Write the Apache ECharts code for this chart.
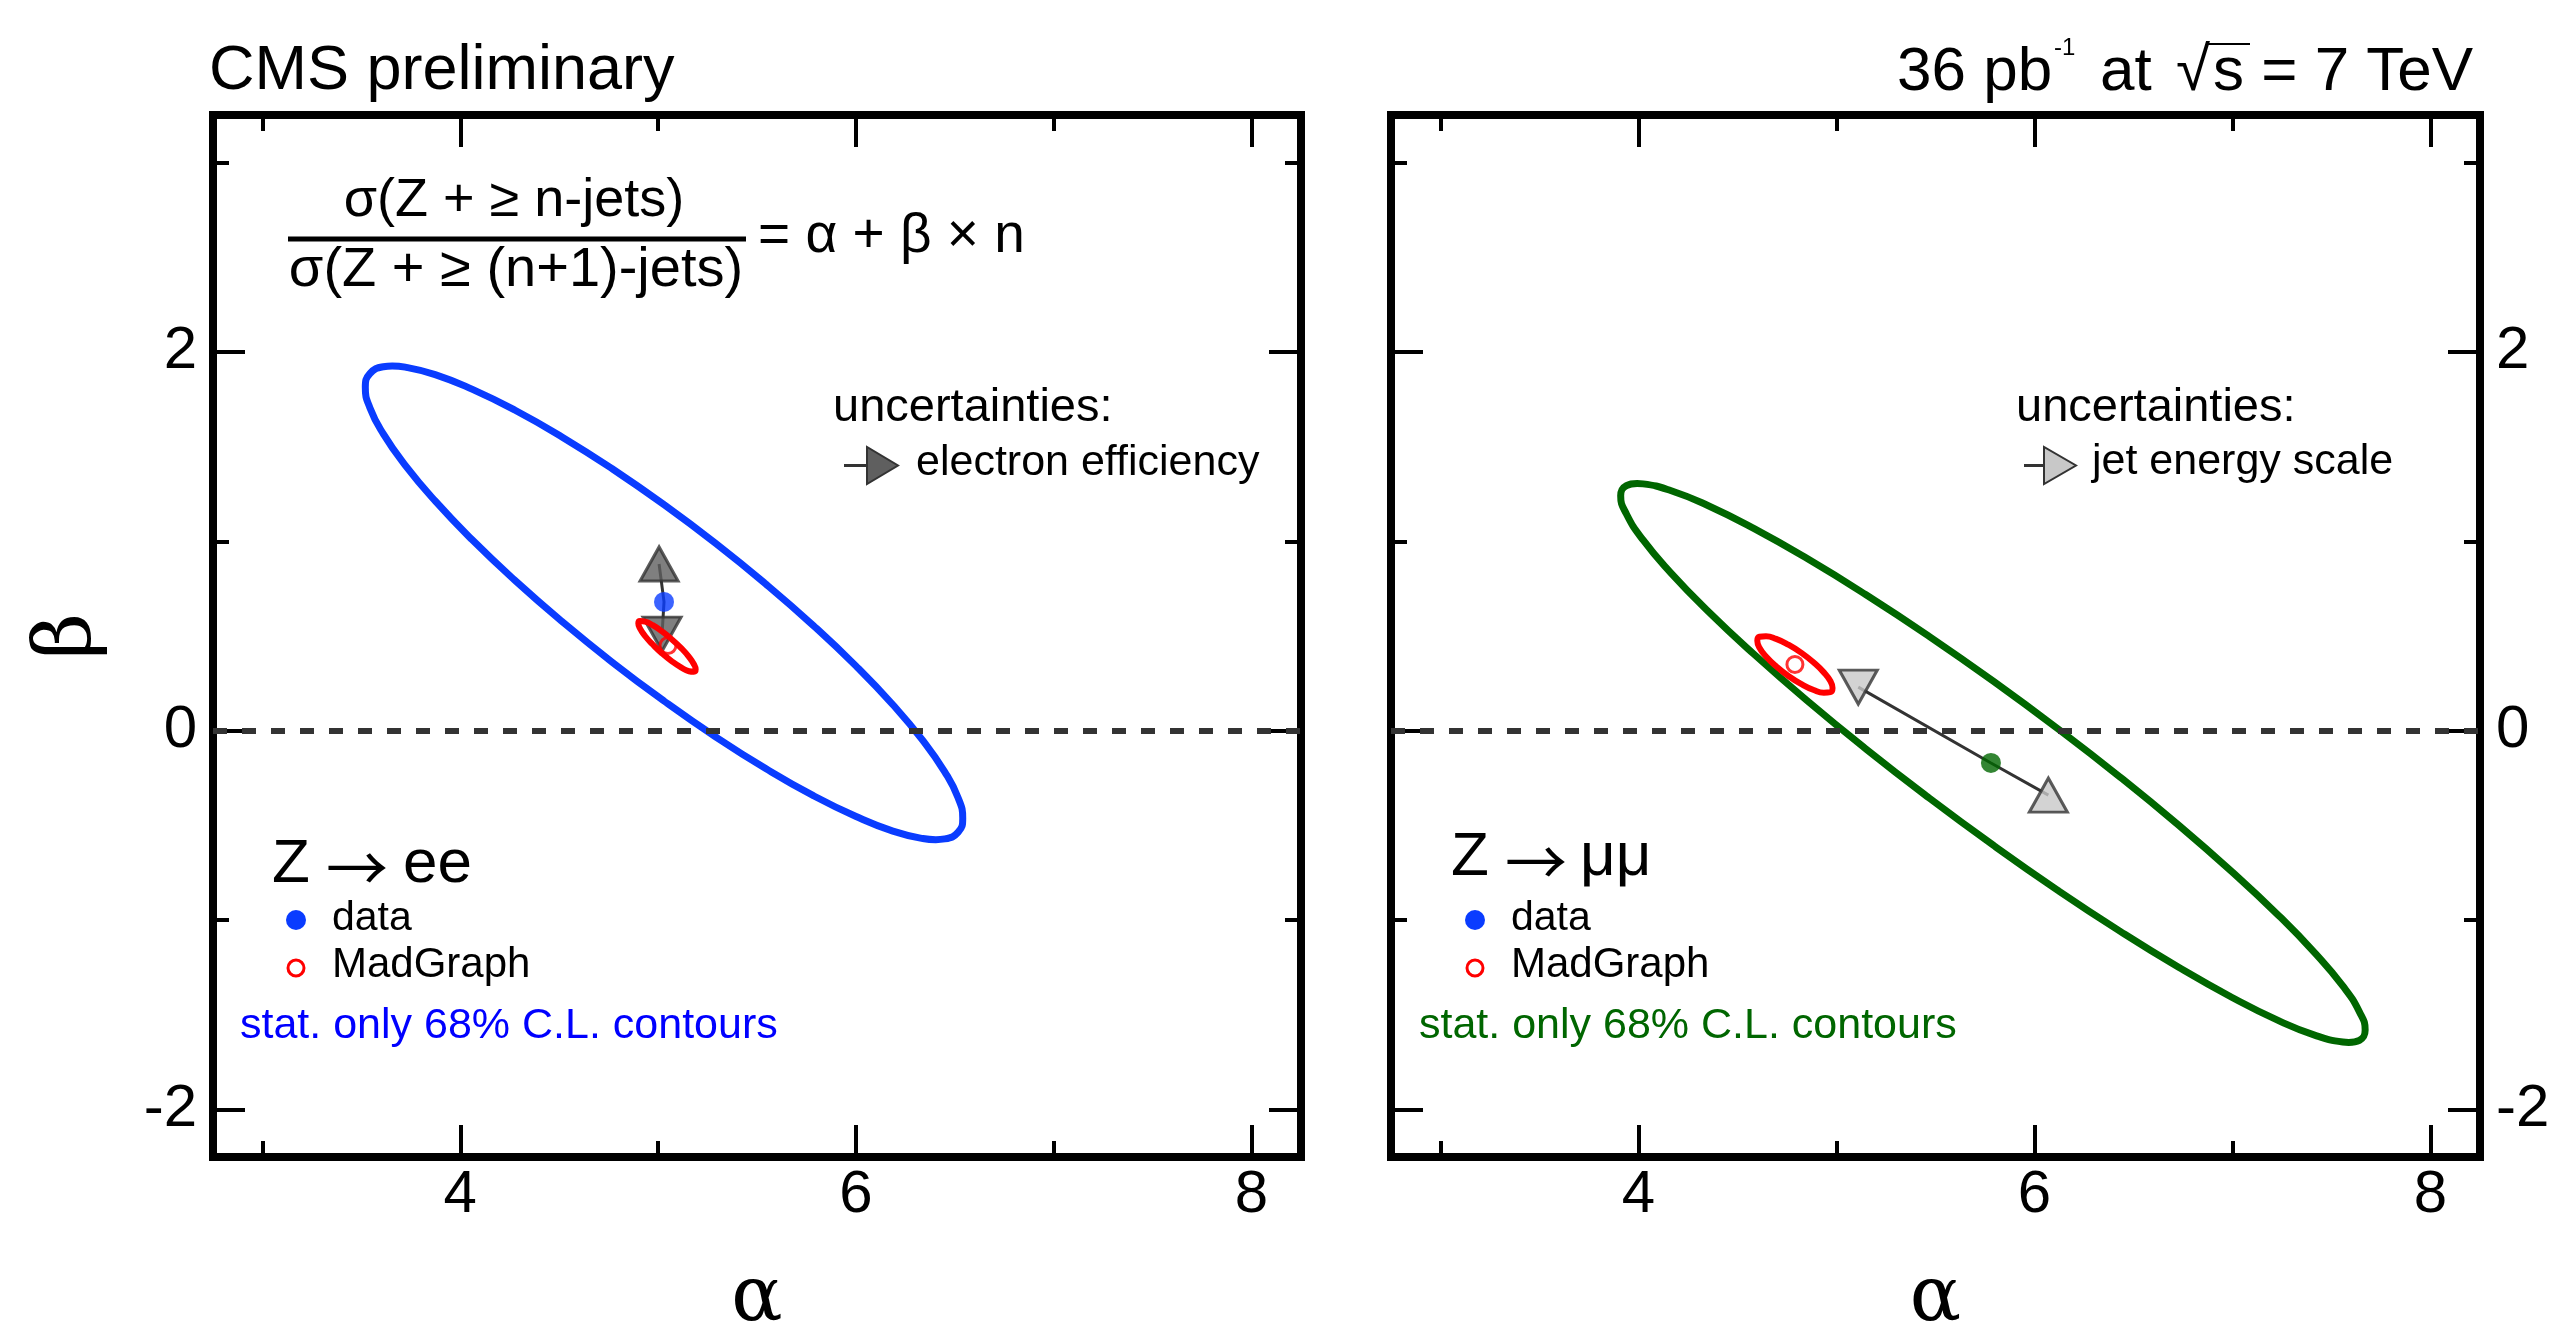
<!DOCTYPE html>
<html>
<head>
<meta charset="utf-8">
<script src="https://cdn.jsdelivr.net/npm/echarts@6/dist/echarts.min.js"></script>
<style>
html, body { margin: 0; padding: 0; background: #fff; }
#chart { width: 2561px; height: 1321px; }
</style>
</head>
<body>
<div id="chart"></div>
<script>
// axis ranges and ticks (same for both panels)
var xRange = [2.75, 8.25];
var yRange = [-2.25, 3.25];
var xMajorTicks = [4, 6, 8];
var xMinorTicks = [3, 5, 7];
var yMajorTicks = [-2, 0, 2];
var yMinorTicks = [-1, 1, 3];

// Z -> ee panel
var eeData = [[5.03, 0.68]];
var eeMadGraph = [[5.05, 0.45]];
var eeSystUp = [[5.005, 0.88]];
var eeSystDown = [[5.02, 0.51]];
var eeContour = [
    [5.030, 1.193], [4.768, 1.383], [4.514, 1.551], [4.275, 1.693], [4.059, 1.803], [3.873, 1.880],
    [3.722, 1.919], [3.656, 1.925], [3.611, 1.921], [3.543, 1.885], [3.520, 1.813], [3.543, 1.705],
    [3.611, 1.567], [3.722, 1.401], [3.873, 1.213], [4.059, 1.009], [4.275, 0.795], [4.514, 0.577],
    [4.768, 0.362], [5.030, 0.157], [5.292, -0.033], [5.546, -0.201], [5.785, -0.343], [6.001, -0.453],
    [6.187, -0.530], [6.338, -0.569], [6.404, -0.575], [6.449, -0.571], [6.517, -0.535], [6.540, -0.463],
    [6.517, -0.355], [6.449, -0.217], [6.338, -0.051], [6.187, 0.137], [6.001, 0.341], [5.785, 0.555],
    [5.546, 0.773], [5.292, 0.988], [5.030, 1.193]
];
var eeMadGraphContour = [
    [5.070, 0.482], [5.020, 0.524], [4.973, 0.557], [4.934, 0.576], [4.909, 0.579], [4.900, 0.567],
    [4.909, 0.539], [4.934, 0.500], [4.973, 0.455], [5.020, 0.408], [5.070, 0.366], [5.118, 0.333],
    [5.156, 0.314], [5.181, 0.311], [5.190, 0.324], [5.181, 0.351], [5.156, 0.390], [5.118, 0.435],
    [5.070, 0.482]
];

// Z -> mumu panel
var mmData = [[5.78, -0.17]];
var mmMadGraph = [[4.79, 0.35]];
var mmSystUp = [[6.07, -0.34]];
var mmSystDown = [[5.11, 0.23]];
var mmContour = [
    [5.790, 0.263], [5.464, 0.501], [5.147, 0.719], [4.850, 0.910], [4.582, 1.068], [4.350, 1.189],
    [4.162, 1.268], [4.023, 1.303], [3.993, 1.305], [3.939, 1.294], [3.910, 1.240], [3.939, 1.144],
    [4.023, 1.007], [4.162, 0.835], [4.350, 0.632], [4.582, 0.405], [4.850, 0.160], [5.147, -0.095],
    [5.464, -0.352], [5.790, -0.603], [6.116, -0.841], [6.433, -1.059], [6.730, -1.250], [6.998, -1.408],
    [7.230, -1.529], [7.418, -1.608], [7.557, -1.643], [7.587, -1.645], [7.641, -1.634], [7.670, -1.580],
    [7.641, -1.484], [7.557, -1.347], [7.418, -1.175], [7.230, -0.972], [6.998, -0.745], [6.730, -0.500],
    [6.433, -0.245], [6.116, 0.012], [5.790, 0.263]
];
var mmMadGraphContour = [
    [4.823, 0.411], [4.757, 0.454], [4.695, 0.485], [4.644, 0.499], [4.611, 0.496], [4.600, 0.475],
    [4.611, 0.438], [4.644, 0.392], [4.695, 0.340], [4.757, 0.289], [4.823, 0.246], [4.885, 0.215],
    [4.936, 0.201], [4.969, 0.204], [4.980, 0.226], [4.969, 0.262], [4.936, 0.308], [4.885, 0.360],
    [4.823, 0.411]
];

var sans = 'Liberation Sans';
var greek = 'DejaVu Serif';

function xAx(grid, pos, ticks, len, labels, name) {
    return {
        type: 'value', gridIndex: grid, position: pos, min: xRange[0], max: xRange[1],
        axisLine: {show: false, onZero: false},
        splitLine: {show: false},
        axisTick: {show: true, inside: true, length: len, customValues: ticks, lineStyle: {color: '#000', width: 4}},
        axisLabel: {show: labels, customValues: ticks, margin: 8, fontSize: 60, fontFamily: sans, color: '#000'},
        name: name || '', nameLocation: 'middle', nameGap: 105,
        nameTextStyle: {fontSize: 76, fontFamily: greek, color: '#000'}
    };
}

function yAx(grid, pos, ticks, len, labels, name) {
    return {
        type: 'value', gridIndex: grid, position: pos, min: yRange[0], max: yRange[1],
        axisLine: {show: false, onZero: false},
        splitLine: {show: false},
        axisTick: {show: true, inside: true, length: len, customValues: ticks, lineStyle: {color: '#000', width: 4}},
        axisLabel: {show: labels, customValues: ticks, margin: 16, fontSize: 60, fontFamily: sans, color: '#000'},
        name: name || '', nameLocation: 'middle', nameGap: 104,
        nameTextStyle: {fontSize: 80, fontFamily: greek, color: '#000'}
    };
}

function panelSeries(ax, contour, color, mgContour, mgPoint, dataPoint, up, down, triFill) {
    return [
        {
            type: 'line', xAxisIndex: ax, yAxisIndex: ax, data: contour, smooth: true,
            symbol: 'none', lineStyle: {color: color, width: 7}, z: 2,
            markLine: {
                silent: true, symbol: ['none', 'none'], label: {show: false},
                lineStyle: {color: '#333', width: 6, type: [14, 15]},
                data: [{yAxis: 0}]
            }
        },
        {
            type: 'line', xAxisIndex: ax, yAxisIndex: ax, data: [up[0], dataPoint[0], down[0]],
            symbol: 'none', lineStyle: {color: '#333', width: 3}, z: 3
        },
        {
            type: 'scatter', xAxisIndex: ax, yAxisIndex: ax, data: up, symbol: 'triangle',
            symbolSize: [38, 34], itemStyle: {color: triFill, borderColor: '#333', borderWidth: 3}, z: 4
        },
        {
            type: 'scatter', xAxisIndex: ax, yAxisIndex: ax, data: down, symbol: 'triangle',
            symbolRotate: 180, symbolSize: [38, 34],
            itemStyle: {color: triFill, borderColor: '#333', borderWidth: 3}, z: 4
        },
        {
            type: 'line', xAxisIndex: ax, yAxisIndex: ax, data: mgContour, smooth: true,
            symbol: 'none', lineStyle: {color: '#ff0000', width: 6}, z: 5
        },
        {
            type: 'scatter', xAxisIndex: ax, yAxisIndex: ax, data: mgPoint, symbol: 'circle',
            symbolSize: 16, itemStyle: {color: 'rgba(0,0,0,0)', borderColor: '#ff0000', borderWidth: 3}, z: 6
        },
        {
            type: 'scatter', xAxisIndex: ax, yAxisIndex: ax, data: dataPoint, symbol: 'circle',
            symbolSize: 20, itemStyle: {color: color}, z: 6
        }
    ];
}

function txt(x, base, s, size, color, align, family) {
    return {
        type: 'text', x: x, y: base - 0.35 * size, z: 100,
        style: {
            text: s, fill: color || '#000', fontSize: size, fontFamily: family || sans,
            align: align || 'left', textAlign: align || 'left',
            verticalAlign: 'middle', textVerticalAlign: 'middle'
        }
    };
}

// thin full-width arrow, placed by its vertical centre
function arrow(x, cy, size) {
    return {
        type: 'text', x: x, y: cy, z: 100,
        style: {
            text: '\u2192', fill: '#000', fontSize: size, fontFamily: 'Noto Sans CJK SC',
            align: 'left', textAlign: 'left', verticalAlign: 'middle', textVerticalAlign: 'middle'
        }
    };
}

function seg(x1, y1, x2, y2, w, color) {
    return {type: 'line', z: 100, shape: {x1: x1, y1: y1, x2: x2, y2: y2}, style: {stroke: color || '#000', lineWidth: w}};
}

var blue = '#0a3cff';
var green = '#006600';

var graphics = [
    txt(209, 94, 'CMS preliminary', 63),
    txt(1897, 95, '36 pb', 62),
    txt(2054, 57, '-1', 24),
    txt(2100, 95, 'at', 62),
    txt(2176, 95, '\u221a', 62),
    txt(2213, 95, 's = 7 TeV', 62),
    seg(2207, 44, 2250, 44, 2),

    txt(514, 220, '\u03c3(Z + \u2265 n-jets)', 54, '#000', 'center'),
    seg(288, 239, 746, 239, 5),
    txt(516, 290, '\u03c3(Z + \u2265 (n+1)-jets)', 56, '#000', 'center'),
    txt(758, 256, '= \u03b1 + \u03b2 \u00d7 n', 55),

    txt(833, 424, 'uncertainties:', 47),
    seg(844, 465.5, 868, 465.5, 3, '#333'),
    {type: 'polygon', z: 100, shape: {points: [[867, 447], [867, 484], [898, 465.5]]},
        style: {fill: '#5f5f5f', stroke: '#333', lineWidth: 2}},
    txt(916, 478, 'electron efficiency', 43),

    txt(2016, 424, 'uncertainties:', 47),
    seg(2024, 465.5, 2046, 465.5, 3, '#333'),
    {type: 'polygon', z: 100, shape: {points: [[2044, 447], [2044, 484], [2076, 465.5]]},
        style: {fill: '#c8c8c8', stroke: '#333', lineWidth: 2}},
    txt(2092, 477, 'jet energy scale', 43),

    txt(272, 887, 'Z', 62),
    arrow(326, 868, 62),
    txt(403, 887, 'ee', 62),
    {type: 'circle', z: 100, shape: {cx: 296, cy: 920, r: 10}, style: {fill: blue}},
    txt(332, 933, 'data', 41),
    {type: 'circle', z: 100, shape: {cx: 296, cy: 968, r: 8}, style: {fill: 'none', stroke: '#ff0000', lineWidth: 3}},
    txt(332, 980, 'MadGraph', 42),
    txt(240, 1041, 'stat. only 68% C.L. contours', 43, '#0000ff'),

    txt(1451, 880, 'Z', 62),
    arrow(1505, 862, 62),
    txt(1580, 880, '\u03bc\u03bc', 62),
    {type: 'circle', z: 100, shape: {cx: 1475, cy: 920, r: 10}, style: {fill: blue}},
    txt(1511, 933, 'data', 41),
    {type: 'circle', z: 100, shape: {cx: 1475, cy: 968, r: 8}, style: {fill: 'none', stroke: '#ff0000', lineWidth: 3}},
    txt(1511, 980, 'MadGraph', 42),
    txt(1419, 1041, 'stat. only 68% C.L. contours', 43, green)
];

var chart = echarts.init(document.getElementById('chart'));
var option = {
    animation: false,
    backgroundColor: '#fff',
    textStyle: {fontFamily: sans},
    grid: [
        {left: 213, top: 115, width: 1088, height: 1042, outerBoundsMode: 'none', containLabel: false,
            show: true, borderColor: '#000', borderWidth: 8, backgroundColor: 'transparent'},
        {left: 1391, top: 115, width: 1089, height: 1042, outerBoundsMode: 'none', containLabel: false,
            show: true, borderColor: '#000', borderWidth: 8, backgroundColor: 'transparent'}
    ],
    xAxis: [
        xAx(0, 'bottom', xMajorTicks, 32, true, '\u03b1'),
        xAx(0, 'bottom', xMinorTicks, 16, false),
        xAx(0, 'top', xMajorTicks, 32, false),
        xAx(0, 'top', xMinorTicks, 16, false),
        xAx(1, 'bottom', xMajorTicks, 32, true, '\u03b1'),
        xAx(1, 'bottom', xMinorTicks, 16, false),
        xAx(1, 'top', xMajorTicks, 32, false),
        xAx(1, 'top', xMinorTicks, 16, false)
    ],
    yAxis: [
        yAx(0, 'left', yMajorTicks, 32, true, '\u03b2'),
        yAx(0, 'left', yMinorTicks, 16, false),
        yAx(0, 'right', yMajorTicks, 32, false),
        yAx(0, 'right', yMinorTicks, 16, false),
        yAx(1, 'left', yMajorTicks, 32, false),
        yAx(1, 'left', yMinorTicks, 16, false),
        yAx(1, 'right', yMajorTicks, 32, true),
        yAx(1, 'right', yMinorTicks, 16, false)
    ],
    series: panelSeries(0, eeContour, blue, eeMadGraphContour, eeMadGraph, eeData, eeSystUp, eeSystDown, '#5f5f5f')
        .concat(panelSeries(4, mmContour, green, mmMadGraphContour, mmMadGraph, mmData, mmSystUp, mmSystDown, '#c8c8c8')),
    graphic: graphics
};
chart.setOption(option);
</script>
</body>
</html>
